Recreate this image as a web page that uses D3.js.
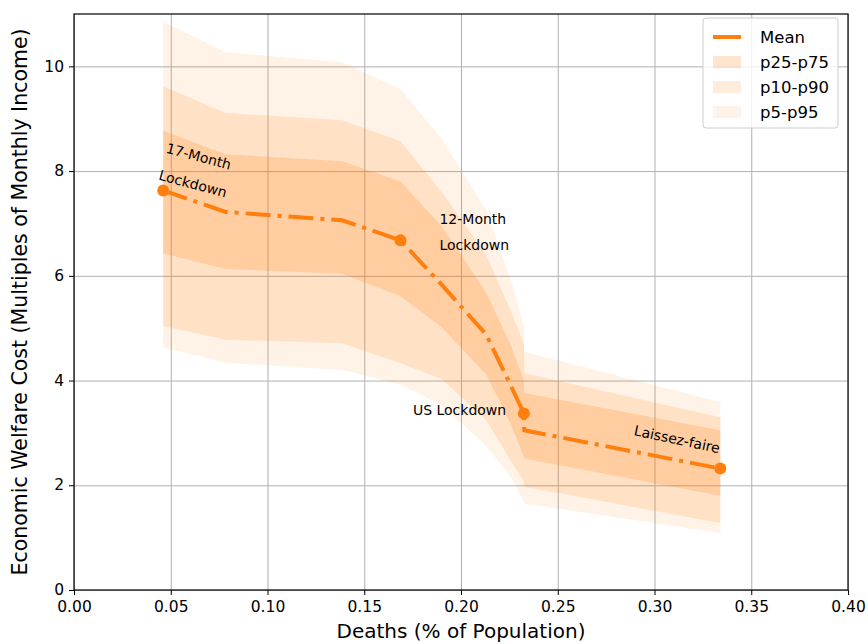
<!DOCTYPE html>
<meta charset="utf-8">
<style>
    body{ margin: 0; background: white; }
    text{ font-family: "DejaVu Sans", sans-serif; }
    .grid line{ stroke: #b0b0b0; stroke-width: 1; }
    .grid path{ display: none; }
</style>
<script src="https://d3js.org/d3.v7.min.js"></script>

<div id="my_dataviz"></div>

<script>
    // data
    var deaths = [0.0461, 0.0783, 0.1386, 0.1687, 0.19, 0.213, 0.226, 0.2325, 0.2327, 0.334];
    var meanCost = [7.63, 7.22, 7.06, 6.68, 5.83, 4.88, 3.88, 3.37, 3.05, 2.32];
    var p25 = [6.43, 6.13, 6.04, 5.61, 5.02, 4.12, 3.15, 2.54, 2.51, 1.80];
    var p75 = [8.77, 8.32, 8.19, 7.80, 6.95, 5.68, 4.65, 4.00, 3.76, 3.05];
    var p10 = [5.04, 4.78, 4.71, 4.33, 4.03, 3.25, 2.45, 2.08, 1.97, 1.28];
    var p90 = [9.62, 9.11, 8.97, 8.57, 7.60, 6.40, 5.30, 4.70, 4.14, 3.30];
    var p5 = [4.63, 4.34, 4.20, 3.92, 3.53, 2.75, 2.15, 1.68, 1.65, 1.09];
    var p95 = [10.85, 10.27, 10.08, 9.57, 8.62, 7.25, 5.90, 5.05, 4.55, 3.59];

    var xTicks = [0, 0.05, 0.10, 0.15, 0.20, 0.25, 0.30, 0.35, 0.40];
    var yTicks = [0, 2, 4, 6, 8, 10];

    // labelled scenarios: index into deaths/meanCost
    var markIdx = [0, 3, 7, 9];
    var legendNames = ["Mean", "p25-p75", "p10-p90", "p5-p95"];

    var orange = "#ff7f0e";

    var margin = {top: 14, right: 20, bottom: 54, left: 74},
        width = 868 - margin.left - margin.right,
        height = 644 - margin.top - margin.bottom;

    var svg = d3.select("#my_dataviz")
      .append("svg")
        .attr("width", 868)
        .attr("height", 644)
      .append("g")
        .attr("transform", `translate(${margin.left}, ${margin.top})`);

    const x = d3.scaleLinear().domain([0, 0.4]).range([0, width]);
    const y = d3.scaleLinear().domain([0, 11]).range([height, 0]);

    // grid
    svg.append("g")
        .attr("class", "grid")
        .attr("transform", `translate(0, ${height})`)
        .call(d3.axisBottom(x).tickValues(xTicks).tickSize(-height).tickFormat(""));
    svg.append("g")
        .attr("class", "grid")
        .call(d3.axisLeft(y).tickValues(yTicks).tickSize(-width).tickFormat(""));

    var rows = deaths.map((d, i) => ({x: d, mean: meanCost[i], p5: p5[i], p95: p95[i], p10: p10[i], p90: p90[i], p25: p25[i], p75: p75[i]}));

    var bands = [["p5", "p95", 0.1], ["p10", "p90", 0.15], ["p25", "p75", 0.2]];
    bands.forEach(function(b){
        var area = d3.area()
            .x(d => x(d.x))
            .y0(d => y(d[b[0]]))
            .y1(d => y(d[b[1]]));
        svg.append("path")
            .datum(rows)
            .attr("d", area)
            .attr("fill", orange)
            .attr("fill-opacity", b[2]);
    });

    var line = d3.line().x(d => x(d.x)).y(d => y(d.mean));
    svg.append("path")
        .datum(rows)
        .attr("d", line)
        .attr("fill", "none")
        .attr("stroke", orange)
        .attr("stroke-width", 4)
        .attr("stroke-dasharray", "25,7,4,7");

    svg.append("g")
        .selectAll("circle")
        .data(markIdx.map(i => rows[i]))
        .join("circle")
        .attr("cx", d => x(d.x))
        .attr("cy", d => y(d.mean))
        .attr("r", 6)
        .attr("fill", orange);

    // annotations
    function note(px, py, lines, angle, gap){
        var t = svg.append("text")
            .attr("transform", `translate(${px}, ${py}) rotate(${angle})`)
            .style("font-size", "14px")
            .attr("fill", "black");
        lines.forEach(function(s, i){
            t.append("tspan").attr("x", 0).attr("y", i * gap).text(s);
        });
    }
    note(x(0.0461) + 2, y(7.63) - 38, ["17-Month", "Lockdown"], 15, 28);
    note(x(0.1687) + 39, y(6.68) - 16, ["12-Month", "Lockdown"], 0, 26);
    note(x(0.2325) - 111, y(3.37) + 1, ["US Lockdown"], 0, 0);
    note(x(0.334) - 87, y(2.31) - 34, ["Laissez-faire"], 12, 0);

    // axes
    var xAxis = svg.append("g")
        .attr("transform", `translate(0, ${height})`)
        .call(d3.axisBottom(x).tickValues(xTicks).tickSize(5).tickPadding(6).tickFormat(d3.format(".2f")));
    var yAxis = svg.append("g")
        .call(d3.axisLeft(y).tickValues(yTicks).tickSize(5).tickPadding(5).tickFormat(d3.format("d")));
    [xAxis, yAxis].forEach(function(a){
        a.select(".domain").remove();
        a.selectAll("text").style("font-size", "15.5px").attr("fill", "black")
            .style("font-family", "DejaVu Sans, sans-serif");
        a.selectAll("line").attr("stroke", "black");
    });
    yAxis.selectAll("text").attr("dy", "0.3em");

    svg.append("rect")
        .attr("width", width).attr("height", height)
        .attr("fill", "none").attr("stroke", "black").attr("stroke-width", 1.2);

    svg.append("text")
        .attr("x", width / 2).attr("y", height + 48)
        .attr("text-anchor", "middle")
        .style("font-size", "20px")
        .text("Deaths (% of Population)");
    svg.append("text")
        .attr("transform", `translate(${-47}, ${height / 2}) rotate(-90)`)
        .attr("text-anchor", "middle")
        .style("font-size", "20.5px")
        .text("Economic Welfare Cost (Multiples of Monthly Income)");

    // legend
    var lg = svg.append("g").attr("transform", `translate(${width - 145}, 4)`);
    lg.append("rect")
        .attr("width", 135).attr("height", 110).attr("rx", 3)
        .attr("fill", "white").attr("fill-opacity", 0.8)
        .attr("stroke", "#cccccc");
    legendNames.forEach(function(name, i){
        var cy = 19 + i * 25;
        if(i == 0){
            lg.append("line").attr("x1", 10).attr("x2", 38).attr("y1", cy).attr("y2", cy)
                .attr("stroke", orange).attr("stroke-width", 4);
        } else {
            lg.append("rect").attr("x", 10).attr("y", cy - 6).attr("width", 28).attr("height", 12)
                .attr("fill", orange).attr("fill-opacity", bands[3 - i][2]);
        }
        lg.append("text").attr("x", 57).attr("y", cy).attr("dy", "0.35em")
            .style("font-size", "16.5px").text(name);
    });
</script>
